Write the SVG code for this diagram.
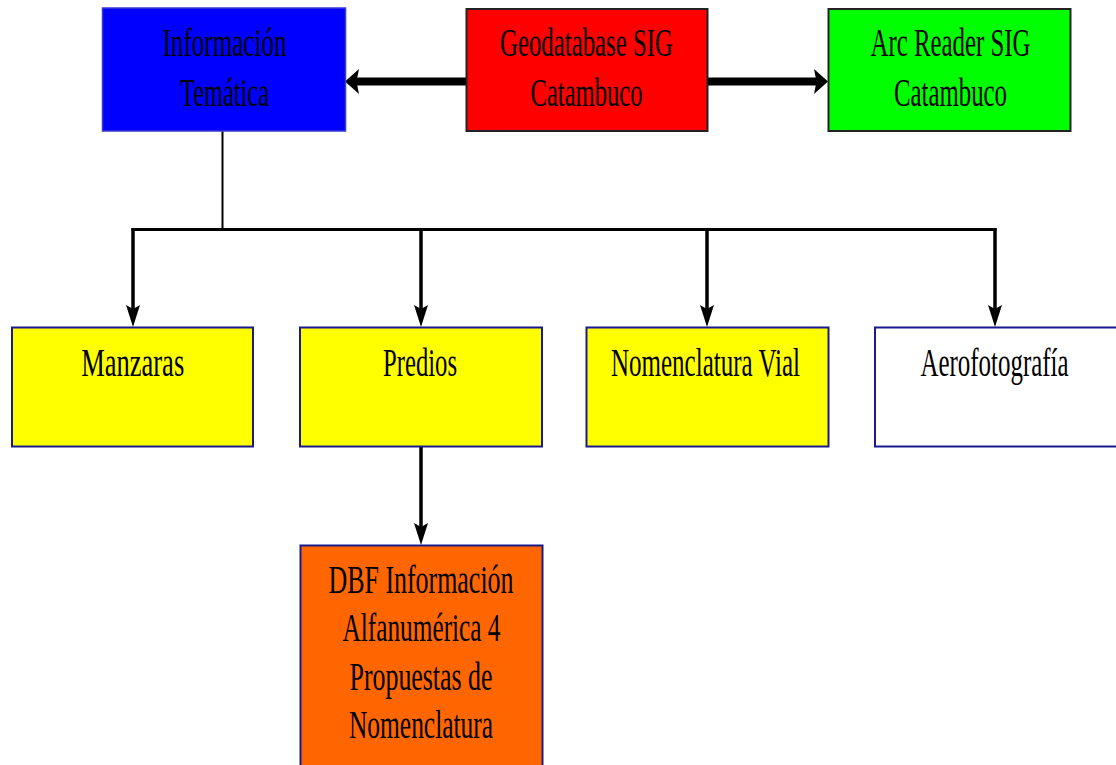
<svg xmlns="http://www.w3.org/2000/svg" width="1116" height="765" viewBox="0 0 1116 765">
<style>
.box{stroke:#1a1a8c;stroke-width:2}
.dk{stroke:#222222;stroke-width:2}
.t{font-family:"Liberation Serif","Times New Roman",serif;font-size:40px;fill:#000;text-anchor:middle}
.ln{stroke:#000;fill:none}
.ah{fill:#000}
</style>
<rect width="1116" height="765" fill="#ffffff"/>
<g id="connectors">
<line class="ln" x1="466" y1="81.5" x2="356" y2="81.5" stroke-width="8"/>
<polygon class="ah" points="345,81.5 359,69 356.5,81.5 359,94"/>
<line class="ln" x1="707" y1="81.5" x2="817" y2="81.5" stroke-width="8"/>
<polygon class="ah" points="828,81.5 814,69 816.5,81.5 814,94"/>
<line class="ln" x1="222.5" y1="131" x2="222.5" y2="229" stroke-width="2"/>
<line class="ln" x1="131.5" y1="229.5" x2="996.5" y2="229.5" stroke-width="3"/>
<line class="ln" x1="133" y1="228" x2="133" y2="309" stroke-width="3.5"/>
<polygon class="ah" points="126,305 133,309 140,305 133,327"/>
<line class="ln" x1="421" y1="228" x2="421" y2="309" stroke-width="3.5"/>
<polygon class="ah" points="414,305 421,309 428,305 421,327"/>
<line class="ln" x1="707" y1="228" x2="707" y2="309" stroke-width="3.5"/>
<polygon class="ah" points="700,305 707,309 714,305 707,327"/>
<line class="ln" x1="995" y1="228" x2="995" y2="309" stroke-width="3.5"/>
<polygon class="ah" points="988,305 995,309 1002,305 995,327"/>
<line class="ln" x1="421" y1="446" x2="421" y2="527" stroke-width="3.5"/>
<polygon class="ah" points="414,523 421,527 428,523 421,545"/>
</g>
<g id="informacion-tematica">
<rect x="102.5" y="8" width="243" height="123" fill="#0000ff" stroke="#3a3ad0" stroke-width="1.5"/>
<text class="t" x="224.5" y="56" textLength="124" lengthAdjust="spacingAndGlyphs">Información</text>
<text class="t" x="224.5" y="106" textLength="89" lengthAdjust="spacingAndGlyphs">Temática</text>
</g>
<g id="geodatabase">
<rect class="dk" x="466.5" y="9" width="241" height="122" fill="#ff0000"/>
<text class="t" x="586.5" y="56" textLength="173" lengthAdjust="spacingAndGlyphs">Geodatabase SIG</text>
<text class="t" x="586.5" y="106" textLength="112" lengthAdjust="spacingAndGlyphs">Catambuco</text>
</g>
<g id="arc-reader">
<rect class="dk" x="828.5" y="9" width="242" height="122" fill="#00ff00"/>
<text class="t" x="950.5" y="56" textLength="160" lengthAdjust="spacingAndGlyphs">Arc Reader SIG</text>
<text class="t" x="950.5" y="106" textLength="113" lengthAdjust="spacingAndGlyphs">Catambuco</text>
</g>
<g id="manzaras">
<rect class="box" x="12" y="327.5" width="241" height="119" fill="#ffff00"/>
<text class="t" x="132.7" y="376" textLength="103" lengthAdjust="spacingAndGlyphs">Manzaras</text>
</g>
<g id="predios">
<rect class="box" x="300" y="327.5" width="242" height="119" fill="#ffff00"/>
<text class="t" x="420" y="376" textLength="74" lengthAdjust="spacingAndGlyphs">Predios</text>
</g>
<g id="nomenclatura-vial">
<rect class="box" x="586.5" y="327.5" width="242" height="119" fill="#ffff00"/>
<text class="t" x="705.5" y="376" textLength="189" lengthAdjust="spacingAndGlyphs">Nomenclatura Vial</text>
</g>
<g id="aerofotografia">
<rect class="box" x="875" y="327.5" width="245" height="119" fill="#ffffff"/>
<text class="t" x="994.5" y="376" textLength="148" lengthAdjust="spacingAndGlyphs">Aerofotografía</text>
</g>
<g id="dbf">
<rect class="box" x="300.5" y="545.5" width="242" height="230" fill="#ff6600"/>
<text class="t" x="421" y="593" textLength="185" lengthAdjust="spacingAndGlyphs">DBF Información</text>
<text class="t" x="421.5" y="641" textLength="158" lengthAdjust="spacingAndGlyphs">Alfanumérica 4</text>
<text class="t" x="421" y="690" textLength="143" lengthAdjust="spacingAndGlyphs">Propuestas de</text>
<text class="t" x="421" y="738" textLength="144" lengthAdjust="spacingAndGlyphs">Nomenclatura</text>
</g>
</svg>
